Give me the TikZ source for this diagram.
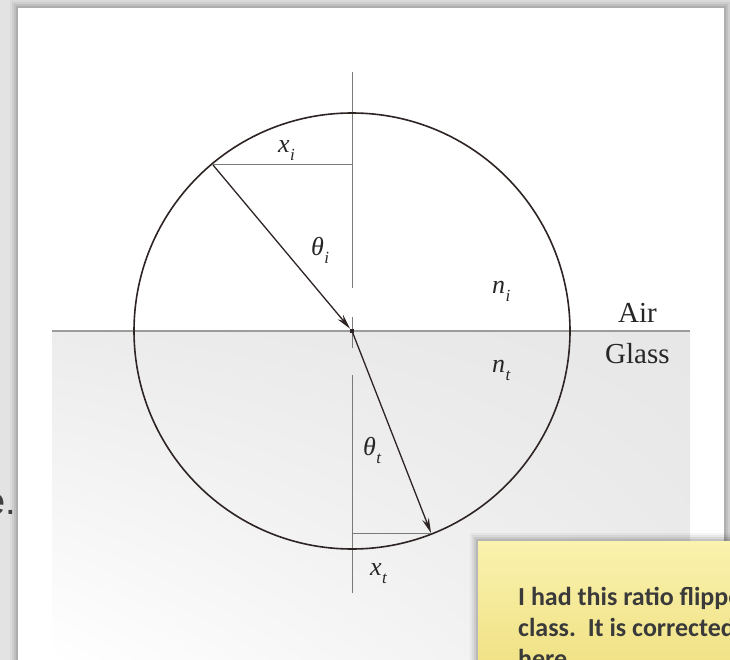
\documentclass[tikz,border=0pt]{standalone}
\usepackage{fontspec}
\setmainfont{Liberation Serif}
\newfontfamily\notefont{Carlito}
\newfontfamily\slidefont{Liberation Sans}
\usetikzlibrary{arrows.meta,shadings,calc}
\definecolor{ink}{HTML}{2E2424}
\definecolor{guide}{HTML}{7A7A7A}
\definecolor{iface}{HTML}{9C9C9C}
\definecolor{notetop}{HTML}{FAF2AE}
\definecolor{notebot}{HTML}{F0E183}
\definecolor{notetext}{HTML}{3A3A3A}
\newcommand{\symlbl}[2]{{\fontsize{26}{26}\selectfont\textit{#1}}\kern0.5pt\raisebox{-8pt}{\fontsize{17}{17}\selectfont\textit{#2}}}
\tikzset{
  ray/.style={draw=ink, line width=1.3pt, -{Stealth[length=15pt,width=7pt]}},
  guideline/.style={draw=guide, line width=1pt},
  lbl/.style={inner sep=0pt, anchor=base west, text=black!85},
  medium/.style={inner sep=0pt, anchor=base west, font=\fontsize{29}{29}\selectfont, text=black!85},
  noteline/.style={inner sep=0pt, anchor=base west, text=notetext, font=\notefont\bfseries\fontsize{26}{31}\selectfont},
}
\begin{document}
\begin{tikzpicture}[x=1pt,y=-1pt]
\useasboundingbox (0,0) rectangle (730,660);
% backdrop (slide behind the page)
\fill[gray!22] (0,0) rectangle (730,660);
\node[inner sep=0pt, anchor=base east, font=\slidefont\fontsize{38}{38}\selectfont, text=black!75] (slidetext) at (16,514) {e.};
% page shadow
\foreach \d/\o in {8/0.04,6/0.05,4/0.07,2/0.09}{
  \fill[black, opacity=\o] (18-\d,8-\d) rectangle (724+\d,670);
}
\fill[white] (18,8) rectangle (724,670);
% glass shading
\shade[upper left=gray!15, upper right=gray!19, lower left=white, lower right=gray!15] (52,331) rectangle (690,660);
% coordinates
\coordinate (O) at (352,331);
\coordinate (P) at (213,165);
\coordinate (Q) at (431,533);
\coordinate (Pv) at (352,165);
\coordinate (Qv) at (352,533);
% vertical normal (three pieces)
\draw[guideline] (352,72) -- (352,288);
\draw[guideline] (352,317) -- (352,348);
\draw[guideline] (352,375) -- (352,593);
% interface
\draw[draw=iface, line width=2pt] (52,331) -- (690,331);
% circle
\draw[ink, line width=1.6pt] (O) circle[radius=218];
% horizontal offsets
\draw[guideline] (P) -- (Pv);
\draw[guideline] (Qv) -- (Q);
% rays
\draw[ray] (P) -- ($(O)!3pt!(P)$);
\draw[ray] (O) -- (Q);
\fill[ink] ($(O)+(-2.2,-2.2)$) rectangle ($(O)+(2.2,2.2)$);
% labels
\node[lbl] (xi) at (278,153) {\symlbl{x}{i}};
\node[lbl] (thi) at (311,255) {\symlbl{θ}{i}};
\node[lbl] (ni) at (492,293) {\symlbl{n}{i}};
\node[lbl] (nt) at (492,372) {\symlbl{n}{t}};
\node[lbl] (tht) at (363,455) {\symlbl{θ}{t}};
\node[lbl] (xt) at (370,575) {\symlbl{x}{t}};
\node[medium] (air) at (618,322) {Air};
\node[medium] (glass) at (605,363) {Glass};
% sticky note
\foreach \d/\o in {8/0.04,6/0.05,4/0.07,2/0.09}{
  \fill[black, opacity=\o] (478-\d,541-\d) rectangle (740,670);
}
\shade[top color=notetop, bottom color=notebot] (478,541) rectangle (740,670);
\begin{scope}
\clip (478,541) rectangle (730,660);
\node[noteline] (note1) at (518,605) {I had this ratio flipped in};
\node[noteline] (note2) at (518,636) {class.\ \ It is corrected};
\node[noteline] (note3) at (518,667) {here.};
\end{scope}
\end{tikzpicture}
\end{document}
